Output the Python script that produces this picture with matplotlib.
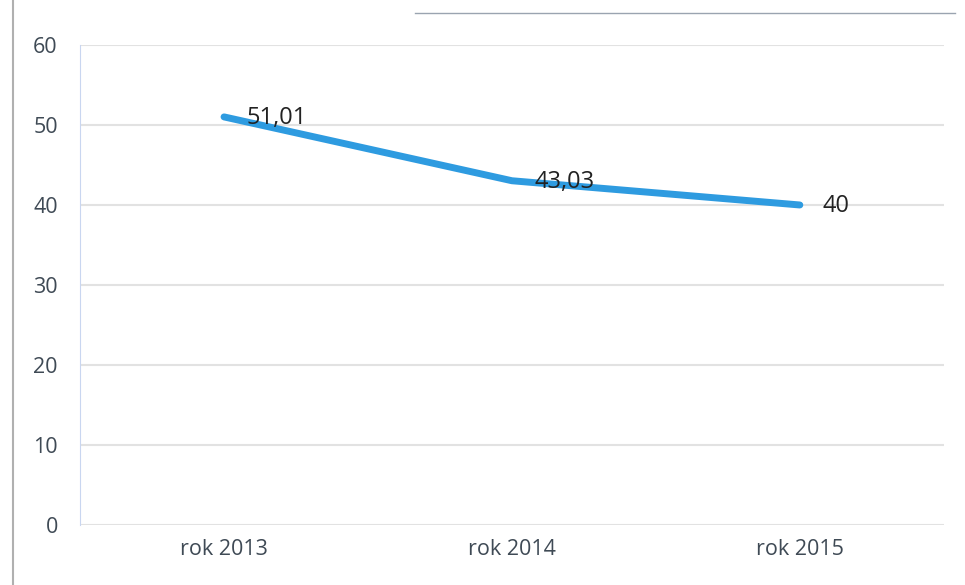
import matplotlib.pyplot as plt

categories = ['rok 2013', 'rok 2014', 'rok 2015']
values = [51.01, 43.03, 40]
value_labels = ['51,01', '43,03', '40']
y_ticks = [0, 10, 20, 30, 40, 50, 60]

plt.rcParams['font.family'] = ['Open Sans', 'DejaVu Sans']

fig = plt.figure(figsize=(9.65, 5.85), dpi=100)
ax = fig.add_axes([0.083, 0.1026, 0.895, 0.8205])

x = list(range(len(categories)))
ax.plot(x, values, color='#2e9be0', linewidth=5, solid_capstyle='round')
for xi, v, lab in zip(x, values, value_labels):
    ax.annotate(lab, (xi, v), xytext=(16, -1), textcoords='offset points',
                ha='left', va='center', fontsize=17, color='#222222')

ax.set_xlim(-0.5, 2.5)
ax.set_ylim(0, 60)
ax.set_yticks(y_ticks)
ax.set_xticks(x)
ax.set_xticklabels(categories)
ax.tick_params(axis='both', length=0, labelsize=15.5, colors='#3f4a55')
ax.tick_params(axis='y', pad=16)
ax.tick_params(axis='x', pad=10)

ax.grid(axis='y', color='#e2e2e2', linewidth=1.5)
ax.set_axisbelow(True)
for side in ['top', 'right', 'bottom']:
    ax.spines[side].set_visible(False)
ax.spines['left'].set_color('#c9d6f0')
ax.spines['left'].set_linewidth(0.8)

# faint frame of the scanned page
fig.add_artist(plt.Line2D([0.013, 0.013], [0.0, 1.0], color='#b0b0b0', linewidth=1.5))
fig.add_artist(plt.Line2D([0.43, 0.99], [0.978, 0.978], color='#9aa4b0', linewidth=1.0))

fig.savefig('out.png', dpi=100)
plt.close()
